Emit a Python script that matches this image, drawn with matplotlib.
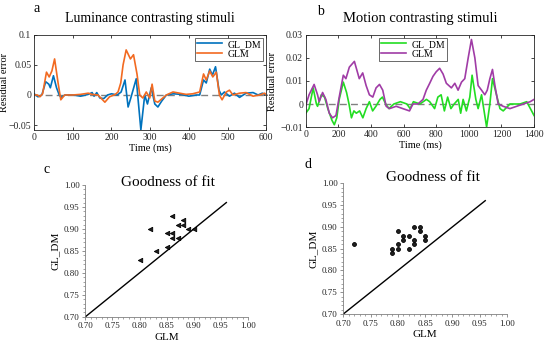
import matplotlib.pyplot as plt
from matplotlib.ticker import MultipleLocator

plt.rcParams['font.family'] = ['Liberation Serif', 'DejaVu Serif']

# ---- panel a: luminance contrasting stimuli ----
t_a_dm = [0, 10, 20, 30, 38, 42, 50, 58, 65, 70, 80, 100, 120, 140, 150, 155, 162, 170, 180,
          190, 200, 215, 225, 235, 243, 250, 264, 276, 286, 293, 303, 312, 320, 330, 342,
          360, 380, 400, 420, 428, 438, 445, 454, 461, 469, 478, 484, 492, 505, 518, 531,
          548, 566, 579, 590, 600]
r_a_dm = [0.002, -0.003, 0.0, 0.022, 0.018, 0.012, 0.032, 0.012, 0.0, -0.004, 0.0, 0.0, -0.002,
          0.001, 0.004, -0.002, 0.004, -0.005, -0.006, 0.0, 0.002, 0.0, 0.005, 0.025, -0.02,
          -0.005, 0.027, -0.058, 0.0, -0.015, 0.012, -0.015, -0.02, -0.01, 0.0, 0.002, 0.001,
          -0.002, 0.0, 0.0, 0.025, 0.02, 0.043, 0.033, 0.047, 0.008, 0.0, 0.005, -0.002, 0.003,
          -0.004, 0.003, 0.004, 0.0, 0.003, 0.0]
t_a_glm = [0, 8, 15, 22, 32, 39, 46, 53, 62, 69, 79, 100, 120, 140, 150, 165, 183, 195, 210,
           217, 224, 230, 238, 249, 257, 266, 273, 281, 290, 299, 305, 312, 320, 342, 359,
           376, 393, 410, 428, 438, 445, 454, 462, 471, 479, 486, 497, 505, 514, 531, 548,
           566, 583, 596, 600]
r_a_glm = [0.0, 0.0, -0.003, 0.002, 0.038, 0.03, 0.04, 0.06, 0.02, -0.008, 0.0, 0.0, 0.001,
           0.003, 0.001, 0.0, -0.012, -0.003, 0.001, 0.005, 0.02, 0.05, 0.075, 0.06, 0.067,
           0.035, 0.0, -0.005, 0.005, -0.005, 0.018, -0.01, -0.012, 0.0, 0.005, 0.003, 0.001,
           0.002, 0.005, 0.035, 0.025, 0.04, 0.03, 0.038, 0.0, -0.008, 0.005, 0.008, 0.0, 0.003,
           0.004, -0.002, 0.0, 0.003, 0.0]

# ---- panel b: motion contrasting stimuli ----
t_b_dm = [0, 20, 45, 65, 72, 95, 115, 135, 160, 175, 190, 205, 230, 250, 265, 280, 295, 310,
          330, 350, 370, 390, 410, 430, 455, 470, 490, 510, 540, 580, 620, 640, 660, 700, 740,
          760, 790, 810, 830, 850, 870, 890, 910, 935, 950, 965, 985, 1006, 1020, 1043, 1057,
          1078, 1109, 1129, 1145, 1166, 1191, 1211, 1252, 1314, 1355, 1400]
r_b_dm = [-0.004, -0.002, 0.007, 0.0, -0.001, 0.004, 0.003, -0.002, -0.007, -0.009, -0.006,
          0.002, 0.0095, 0.005, 0.0, -0.006, -0.003, -0.004, -0.003, -0.006, -0.002, 0.001,
          -0.003, -0.001, 0.002, 0.003, 0.0, -0.002, 0.0, 0.001, 0.0, -0.002, 0.001, 0.0, 0.002,
          0.001, -0.002, 0.003, 0.004, -0.003, 0.003, -0.002, 0.0, 0.002, -0.004, 0.002, -0.003,
          0.003, 0.0125, 0.002, -0.002, 0.004, -0.01, 0.0, 0.011, 0.005, -0.002, -0.003, 0.0,
          0.0, 0.001, -0.005]
t_b_glm = [0, 20, 51, 72, 82, 103, 123, 144, 164, 185, 205, 230, 246, 267, 298, 308, 328, 349,
           370, 390, 411, 431, 452, 472, 493, 513, 554, 595, 636, 657, 688, 719, 739, 760, 780,
           800, 821, 842, 862, 893, 914, 934, 955, 975, 996, 1016, 1037, 1057, 1078, 1098,
           1113, 1129, 1145, 1160, 1180, 1211, 1252, 1293, 1334, 1376, 1400]
r_b_glm = [-0.0005, 0.004, 0.0085, 0.004, 0.001, 0.005, 0.002, -0.004, -0.006, -0.005, 0.003,
           0.0125, 0.011, 0.016, 0.0185, 0.016, 0.011, 0.0135, 0.008, 0.004, 0.003, 0.007,
           0.0085, 0.006, -0.001, -0.002, -0.001, -0.002, -0.003, 0.0, 0.0, 0.002, 0.006, 0.009,
           0.012, 0.014, 0.0155, 0.013, 0.009, 0.007, 0.009, 0.006, 0.0095, 0.011, 0.02, 0.028,
           0.02, 0.008, 0.006, 0.004, 0.006, 0.011, 0.015, 0.008, 0.0, -0.001, -0.002, -0.001,
           0.0, 0.001, 0.002]

# ---- panels c, d: goodness of fit ----
c_glm = [0.80, 0.82, 0.83, 0.85, 0.85, 0.86, 0.86, 0.86, 0.87, 0.87, 0.88, 0.88, 0.89, 0.90]
c_gldm = [0.83, 0.90, 0.85, 0.86, 0.89, 0.93, 0.89, 0.88, 0.91, 0.88, 0.92, 0.91, 0.90, 0.90]
d_glm = [0.72, 0.79, 0.79, 0.80, 0.80, 0.80, 0.81, 0.81, 0.82, 0.82, 0.83, 0.83, 0.83, 0.84,
         0.84, 0.85, 0.85]
d_gldm = [0.86, 0.84, 0.85, 0.85, 0.86, 0.89, 0.87, 0.88, 0.88, 0.85, 0.90, 0.87, 0.86, 0.90,
          0.89, 0.88, 0.87]
diag = [0.70, 0.96]

fig = plt.figure(figsize=(5.5, 3.49), dpi=100)


def line_panel(rect, t1, r1, t2, r2, c1, c2, xlim, ylim, yticks, yticklabels, xticks, title,
               tsize, letter, lpos, leg_loc, leg_anchor, ylab_x):
    ax = fig.add_axes(rect)
    ax.axhline(0, color='#808080', ls='--', lw=1.0, dashes=(5, 3))
    ax.plot(t1, r1, color=c1, lw=1.2, label='GL_DM')
    ax.plot(t2, r2, color=c2, lw=1.2, label='GLM')
    ax.set_xlim(*xlim)
    ax.set_ylim(*ylim)
    ax.set_yticks(yticks)
    ax.set_yticklabels(yticklabels)
    ax.set_xticks(xticks)
    ax.tick_params(direction='in', top=True, right=True, labelsize=7, length=2.5,
                   width=0.6, pad=2, colors='#262626')
    for s in ax.spines.values():
        s.set_linewidth(0.6)
        s.set_color('#262626')
    ax.set_xlabel('Time (ms)', fontsize=7.5, labelpad=1)
    ax.set_ylabel('Residual error', fontsize=7.5)
    ax.yaxis.set_label_coords(ylab_x, 0.5)
    leg = ax.legend(loc=leg_loc, bbox_to_anchor=leg_anchor, fontsize=7, frameon=True,
                    fancybox=False, edgecolor='#262626', handlelength=2.6, borderpad=0.2,
                    labelspacing=0.1, handletextpad=0.6, borderaxespad=0.3)
    leg.get_frame().set_linewidth(0.6)
    fig.text(rect[0] + rect[2] / 2, 0.948, title, ha='center', va='center', fontsize=tsize)
    fig.text(lpos[0], lpos[1], letter, ha='center', va='center', fontsize=10)
    return ax


line_panel([0.062, 0.628, 0.422, 0.272], t_a_dm, r_a_dm, t_a_glm, r_a_glm,
           '#0072BD', '#F26A21', (0, 600), (-0.058, 0.1), [-0.05, 0, 0.05, 0.1],
           ['\u22120.05', '0', '0.05', '0.1'], [0, 100, 200, 300, 400, 500, 600],
           'Luminance contrasting stimuli', 10, 'a', (0.067, 0.977), 'upper right', None,
           -0.11)
line_panel([0.556, 0.636, 0.415, 0.264], t_b_dm, r_b_dm, t_b_glm, r_b_glm,
           '#22DD22', '#A03CA6', (0, 1400), (-0.01, 0.03), [-0.01, 0, 0.01, 0.02, 0.03],
           ['\u22120.01', '0', '0.01', '0.02', '0.03'],
           [0, 200, 400, 600, 800, 1000, 1200, 1400],
           'Motion contrasting stimuli', 10.5, 'b', (0.582, 0.966), 'upper center',
           (0.47, 1.0), -0.125)


def fit_panel(rect, x, y, marker, ms, title, tpos, letter, lpos):
    ax = fig.add_axes(rect)
    ax.plot(diag, diag, color='black', lw=1.0)
    ax.plot(x, y, ls='none', marker=marker, ms=ms, color='#202020', mec='black', mew=0.6)
    ax.set_xlim(0.70, 1.00)
    ax.set_ylim(0.70, 1.00)
    ticks = [0.70, 0.75, 0.80, 0.85, 0.90, 0.95, 1.00]
    ax.set_xticks(ticks)
    ax.set_yticks(ticks)
    ax.set_xticklabels(['%.2f' % v for v in ticks])
    ax.set_yticklabels(['%.2f' % v for v in ticks])
    ax.xaxis.set_minor_locator(MultipleLocator(0.01))
    ax.yaxis.set_minor_locator(MultipleLocator(0.01))
    ax.spines['top'].set_visible(False)
    ax.spines['right'].set_visible(False)
    for s in ['left', 'bottom']:
        ax.spines[s].set_linewidth(0.6)
        ax.spines[s].set_color('#808080')
    ax.tick_params(which='major', direction='out', length=2.5, width=0.6, labelsize=6.5,
                   pad=1.5, colors='#808080', labelcolor='#262626')
    ax.tick_params(which='minor', direction='out', length=1.3, width=0.5, colors='#808080')
    ax.set_xlabel('GLM', fontsize=8, labelpad=2)
    ax.set_ylabel('GL_DM', fontsize=8, labelpad=3)
    fig.text(tpos[0], tpos[1], title, ha='center', va='center', fontsize=11)
    fig.text(lpos[0], lpos[1], letter, ha='center', va='center', fontsize=10)
    return ax


fit_panel([0.155, 0.092, 0.296, 0.378], c_glm, c_gldm, '<', 3.2,
          'Goodness of fit', (0.305, 0.477), 'c', (0.085, 0.513))
fit_panel([0.624, 0.100, 0.298, 0.375], d_glm, d_gldm, 'o', 2.8,
          'Goodness of fit', (0.787, 0.490), 'd', (0.56, 0.530))

fig.savefig('out.png', dpi=100)
